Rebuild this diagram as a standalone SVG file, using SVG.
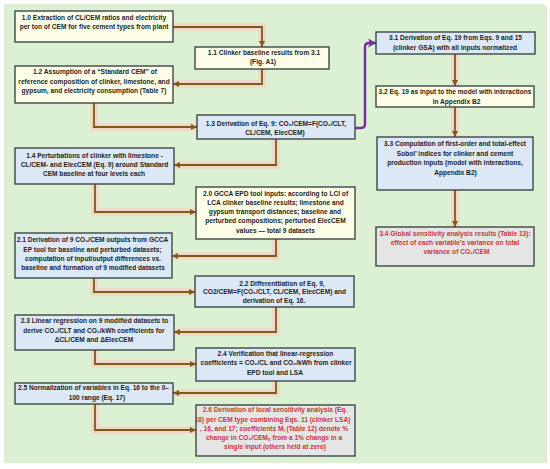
<svg xmlns="http://www.w3.org/2000/svg" width="550" height="469" viewBox="0 0 550 469">
<defs>
<style>
.bg{fill:#dcf0d4}
.box{stroke:#3d4848;stroke-width:1.4}
.y{fill:#fefee8}
.b{fill:#dce8f5}
.g{fill:#e5e5e5}
text{font-family:"Liberation Sans",Arial,sans-serif;font-weight:bold;font-size:6.6px;fill:#1e1e1e;text-anchor:middle}
text.r{fill:#c8383a}
.glow{fill:none;stroke:#f7cfc1;stroke-width:7.5;opacity:0.8}
.ln{fill:none;stroke:#7b5b1b;stroke-width:1.8;marker-end:url(#ah)}
.pl{fill:none;stroke:#7030a0;stroke-width:2.4;marker-end:url(#ap)}
</style>
<marker id="ah" markerUnits="userSpaceOnUse" markerWidth="7" markerHeight="6" refX="6" refY="3" orient="auto"><path d="M0,0 L6,3 L0,6 z" fill="#7b5b1b"/></marker>
<marker id="ap" markerUnits="userSpaceOnUse" markerWidth="9" markerHeight="9" refX="8" refY="4.5" orient="auto"><path d="M0,0 L8,4.5 L0,9 L2,4.5 z" fill="#7030a0"/></marker>
</defs>
<rect x="0" y="0" width="550" height="469" fill="#ffffff"/>
<rect class="bg" x="4" y="4" width="541" height="459"/>
<rect x="545" y="6" width="2" height="457" fill="#e8e4d8"/>

<g id="connectors">
<g id="glows">
<path class="glow" d="M173,27 H262 V47"/>
<path class="glow" d="M262,69 V84 H173"/>
<path class="glow" d="M94,103 V127 H197"/>
<path class="glow" d="M276,139 V165 H174"/>
<path class="glow" d="M95,184 V212 H196"/>
<path class="glow" d="M276,239 V256 H172"/>
<path class="glow" d="M94,278 V292 H195"/>
<path class="glow" d="M276,307 V332 H174"/>
<path class="glow" d="M95,350 V364 H196"/>
<path class="glow" d="M276,381 V393 H173"/>
<path class="glow" d="M95,404 V430 H196"/>
<path class="glow" d="M455,54 V86"/>
<path class="glow" d="M455,107 V137"/>
<path class="glow" d="M455,190 V227"/>
</g>
<path class="ln" d="M173,27 H262 V47"/>
<path class="ln" d="M262,69 V84 H173"/>
<path class="ln" d="M94,103 V127 H197"/>
<path class="ln" d="M276,139 V165 H174"/>
<path class="ln" d="M95,184 V212 H196"/>
<path class="ln" d="M276,239 V256 H172"/>
<path class="ln" d="M94,278 V292 H195"/>
<path class="ln" d="M276,307 V332 H174"/>
<path class="ln" d="M95,350 V364 H196"/>
<path class="ln" d="M276,381 V393 H173"/>
<path class="ln" d="M95,404 V430 H196"/>
<path class="ln" d="M455,54 V86"/>
<path class="ln" d="M455,107 V137"/>
<path class="ln" d="M455,190 V227"/>
<path class="pl" d="M355,128 H361 Q365,128 365,124 V47 Q365,43 369,43 H376"/>
</g>

<g id="n10">
<rect class="box y" x="15" y="11" width="158" height="31"/>
<text x="94" y="19.6">1.0 Extraction of CL/CEM ratios and electricity</text>
<text x="94" y="29">per ton of CEM for five cement types from plant</text>
</g>
<g id="n11">
<rect class="box y" x="195" y="47" width="134" height="22"/>
<text x="264" y="55">1.1 Clinker baseline results from 3.1</text>
<text x="263" y="64">(Fig. A1)</text>
</g>
<g id="n12">
<rect class="box y" x="15" y="66" width="158" height="37"/>
<text x="95" y="74">1.2 Assumption of a “Standard CEM” of</text>
<text x="94" y="84">reference composition of clinker, limestone, and</text>
<text x="94" y="93">gypsum, and electricity consumption (Table 7)</text>
</g>
<g id="n13">
<rect class="box b" x="197" y="115" width="158" height="24"/>
<text x="276" y="125.6">1.3 Derivation of Eq. 9: CO₂/CEM=F(CO₂/CLT,</text>
<text x="275" y="135">CL/CEM, ElecCEM)</text>
</g>
<g id="n14">
<rect class="box b" x="15" y="148" width="159" height="36"/>
<text x="94.5" y="158.4">1.4 Perturbations of clinker with limestone -</text>
<text x="94.5" y="167.4">CL/CEM- and ElecCEM (Eq. 9) around Standard</text>
<text x="94" y="176.4">CEM baseline at four levels each</text>
</g>
<g id="n20">
<rect class="box y" x="196" y="187" width="159" height="52"/>
<text x="275.5" y="195.6">2.0 GCCA EPD tool inputs: according to LCI of</text>
<text x="275.5" y="204.6">LCA clinker baseline results; limestone and</text>
<text x="275" y="214.3">gypsum transport distances; baseline and</text>
<text x="275.5" y="223.3">perturbed compositions; perturbed ElecCEM</text>
<text x="275.5" y="232.6">values — total 9 datasets</text>
</g>
<g id="n21">
<rect class="box b" x="15" y="233" width="157" height="45"/>
<text x="92.5" y="242.3">2.1 Derivation of 9 CO₂/CEM outputs from GCCA</text>
<text x="92.5" y="251.6">EP tool for baseline and perturbed datasets;</text>
<text x="93" y="260.6">computation of input/output differences vs.</text>
<text x="93" y="270">baseline and formation of 9 modified datasets</text>
</g>
<g id="n22">
<rect class="box b" x="195" y="276" width="159" height="31"/>
<text x="282" y="285.6">2.2 Differenttiation of Eq. 9,</text>
<text x="274.5" y="294.4">CO2/CEM=F(CO₂/CLT, CL/CEM, ElecCEM) and</text>
<text x="274" y="303.2">derivation of Eq.  16.</text>
</g>
<g id="n23">
<rect class="box b" x="15" y="315" width="159" height="35"/>
<text x="94.5" y="323.2">2.3 Linear regression on 9 modified datasets to</text>
<text x="94" y="332.5">derive CO₂/CLT and CO₂/kWh coefficients for</text>
<text x="94" y="341.5">ΔCL/CEM and ΔElecCEM</text>
</g>
<g id="n24">
<rect class="box b" x="196" y="348" width="159" height="33"/>
<text x="275.5" y="355.8">2.4 Verification that linear-regression</text>
<text x="276" y="365.2">coefficients = CO₂/CL and CO₂/kWh from clinker</text>
<text x="275" y="374.8">EPD tool and LSA</text>
</g>
<g id="n25">
<rect class="box b" x="15" y="383" width="158" height="21"/>
<text x="93.5" y="390.2">2.5  Normalization of variables in Eq. 16 to the 0–</text>
<text x="97" y="399.8">100 range (Eq. 17)</text>
</g>
<g id="n26">
<rect class="box g" x="196" y="405" width="159" height="51"/>
<text class="r" x="275" y="411.8">2.6  Derivation of local sensitivity analysis (Eq.</text>
<text class="r" x="272.5" y="421.5">18) per CEM type combining Eqs. 11 (clinker LSA)</text>
<text class="r" x="274" y="430.8">, 16, and 17; coefficients M<tspan font-size="4.6" dy="1.2">i</tspan><tspan dy="-1.2"> (Table 12) denote %</tspan></text>
<text class="r" x="274" y="440.2">change in CO₂/CEM<tspan font-size="4.6" dy="1.2">n</tspan><tspan dy="-1.2"> from a 1% change in a</tspan></text>
<text class="r" x="275" y="449.2">single input (others held at zero)</text>
</g>
<g id="n31">
<rect class="box b" x="376" y="32" width="159" height="22"/>
<text x="455.5" y="39.8">3.1 Derivation of Eq. 19 from Eqs. 9 and 15</text>
<text x="455" y="49.8">(clinker GSA) with all inputs normalized</text>
</g>
<g id="n32">
<rect class="box y" x="376" y="86" width="158" height="21"/>
<text x="455" y="94.2">3.2 Eq. 19 as input to the model with interactions</text>
<text x="456.5" y="103.5">in Appendix B2</text>
</g>
<g id="n33">
<rect class="box b" x="377" y="137" width="156" height="53"/>
<text x="455" y="146.4">3.3 Computation of first-order and total-effect</text>
<text x="455" y="155.9">Sobol’ indices for clinker and cement</text>
<text x="455" y="165.4">production inputs (model with interactions,</text>
<text x="455.5" y="174.9">Appendix B2)</text>
</g>
<g id="n34">
<rect class="box g" x="376" y="227" width="158" height="39"/>
<text class="r" x="455" y="235.5">3.4 Global sensitivity analysis results (Table 13):</text>
<text class="r" x="455" y="244.5">effect of each variable’s variance on total</text>
<text class="r" x="456.5" y="253.5">variance of CO₂/CEM</text>
</g>
</svg>
